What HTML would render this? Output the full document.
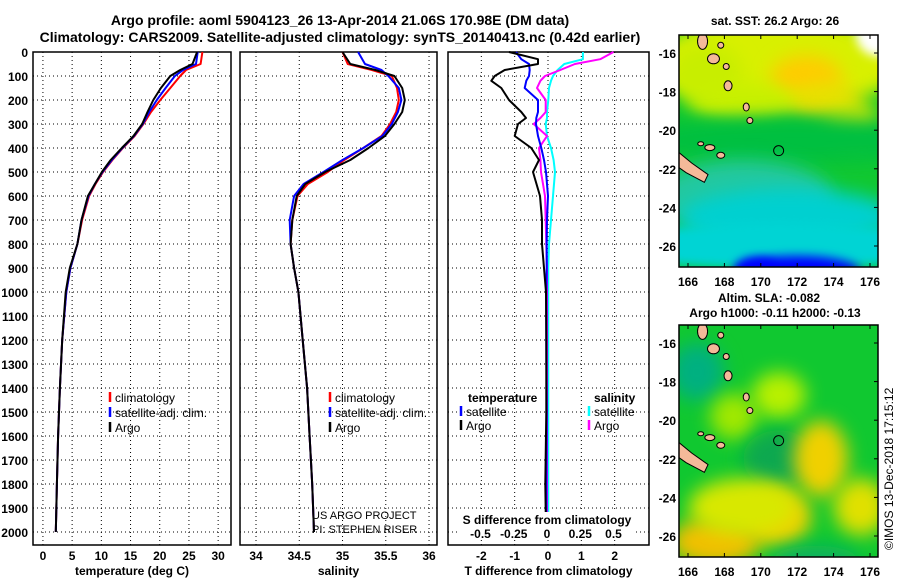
<!DOCTYPE html>
<html><head><meta charset="utf-8"><style>
body{margin:0;background:#fff;}
svg{display:block;font-family:"Liberation Sans",sans-serif;font-weight:bold;}
</style></head><body>
<svg id="c" width="900" height="580" viewBox="0 0 900 580">
<defs>
<filter id="bl" x="-50%" y="-50%" width="200%" height="200%"><feGaussianBlur stdDeviation="9"/></filter>
<filter id="bl2" x="-50%" y="-50%" width="200%" height="200%"><feGaussianBlur stdDeviation="5"/></filter>
<clipPath id="m1c"><rect x="679" y="35" width="199" height="232"/></clipPath>
<clipPath id="m2c"><rect x="679" y="325" width="199" height="232"/></clipPath>
</defs>
<text x="340" y="25" font-size="14" text-anchor="middle">Argo profile: aoml 5904123_26 13-Apr-2014 21.06S 170.98E (DM data)</text>
<text x="340" y="42" font-size="14" text-anchor="middle">Climatology: CARS2009. Satellite-adjusted climatology: synTS_20140413.nc (0.42d earlier)</text>
<text x="775" y="25" font-size="12" text-anchor="middle">sat. SST: 26.2 Argo: 26</text>
<text x="769" y="302" font-size="12" text-anchor="middle">Altim. SLA: -0.082</text>
<text x="775" y="317" font-size="12" text-anchor="middle">Argo h1000: -0.11 h2000: -0.13</text>
<text x="0" y="0" font-size="12" font-weight="normal" transform="translate(893,550) rotate(-90)">©IMOS 13-Dec-2018 17:15:12</text>
<g id="maps"></g>
<g id="plots"></g>
</svg>
<script>
// ---- data ----
const depth = [0,50,75,100,150,200,250,300,350,400,450,500,550,600,700,800,900,1000,1200,1400,1600,1800,2000];
const tempArgo = [26.4,25.6,23.5,21.8,20.2,18.9,17.9,17.0,15.5,13.5,11.6,10.1,8.9,7.7,6.6,5.9,4.6,3.9,3.3,2.9,2.6,2.4,2.2];
const tempClim = [27.3,27.0,24.5,23.5,21.8,20.1,18.5,17.2,15.7,13.7,11.9,10.3,9.0,7.9,6.7,5.9,4.7,4.0,3.3,2.9,2.6,2.4,2.2];
const tempSat  = [26.5,26.2,24.0,22.6,21.0,19.5,18.2,17.1,15.6,13.6,11.8,10.2,8.9,7.8,6.6,5.9,4.7,4.0,3.3,2.9,2.6,2.4,2.2];
const salArgo = [35.0,35.09,35.38,35.6,35.69,35.72,35.69,35.6,35.49,35.3,35.09,34.8,34.57,34.47,34.42,34.4,34.44,34.49,34.54,34.59,34.62,34.65,34.67];
const salClim = [35.0,35.06,35.34,35.57,35.63,35.65,35.62,35.55,35.45,35.24,35.02,34.83,34.6,34.48,34.42,34.4,34.44,34.49,34.54,34.59,34.62,34.65,34.67];
const salSat  = [35.18,35.26,35.45,35.53,35.65,35.68,35.64,35.57,35.46,35.24,35.0,34.78,34.55,34.44,34.39,34.4,34.44,34.49,34.54,34.59,34.62,34.65,34.67];
const dDepth = [0,30,50,75,100,120,150,200,250,275,300,350,400,450,500,600,700,800,900,1000,1200,1500,1800,2000];
const dTArgo = [-1.17,-0.3,-0.3,-1.3,-1.6,-1.7,-1.4,-1.17,-0.8,-0.66,-0.9,-1.0,-0.5,-0.27,-0.45,-0.24,-0.18,-0.18,-0.12,-0.06,-0.05,-0.05,-0.08,-0.06];
const dTSat  = [-0.96,-0.8,-0.57,-0.55,-0.57,-0.65,-0.7,-0.3,-0.3,-0.35,-0.36,-0.3,-0.2,-0.12,-0.06,0.0,-0.03,-0.04,-0.04,-0.05,-0.05,-0.04,-0.05,-0.05];
const dSArgo = [0.5,0.4,0.21,0.1,-0.015,-0.05,-0.075,-0.01,-0.01,-0.05,-0.1,0.0,-0.06,-0.05,-0.045,-0.015,-0.01,-0.005,0.0,0.0,0.0,0.0,0.0,0.0];
const dSSat  = [0.27,0.27,0.13,0.08,0.045,0.03,0.015,0.01,0.0,0.0,-0.01,0.0,0.03,0.05,0.06,0.045,0.03,0.015,0.01,0.01,0.01,0.01,0.01,0.01];
const depthTicks = [0,100,200,300,400,500,600,700,800,900,1000,1100,1200,1300,1400,1500,1600,1700,1800,1900,2000];
const tempTicks = [0,5,10,15,20,25,30];
const salTicks = [34,34.5,35,35.5,36];
const tdTicks = [-2,-1,0,1,2];
const sdTicks = [-0.5,-0.25,0,0.25,0.5];
const lonTicks = [166,168,170,172,174,176];
const latTicks = [-16,-18,-20,-22,-24,-26];

const NS="http://www.w3.org/2000/svg";
const plots=document.getElementById('plots');
function mk(tag,attrs,parent){const e=document.createElementNS(NS,tag);for(const k in attrs)e.setAttribute(k,attrs[k]);(parent||plots).appendChild(e);return e;}
const Y0=52, YPX=0.24;
const y=d=>Y0+d*YPX;

function panel(name,x0,x1,xmin,xmax,ticks,fmt,xlabel){
  const g=mk('g',{});
  
  
  const sx=v=>x0+(v-xmin)/(xmax-xmin)*(x1-x0);
  const gr=mk('g',{},g);
  
  
  depthTicks.forEach(d=>{mk('line',{x1:x0,x2:x1,y1:y(d),y2:y(d),stroke:'#000','stroke-width':1,'stroke-dasharray':'1 3'},gr);});
  ticks.forEach(t=>{mk('line',{x1:sx(t),x2:sx(t),y1:Y0,y2:545,stroke:'#000','stroke-width':1,'stroke-dasharray':'1 3'},gr);});
  const fr=mk('rect',{x:x0,y:Y0,width:x1-x0,height:545-Y0,fill:'none',stroke:'#000','stroke-width':1.5},g);
  
  
  ticks.forEach(t=>{
    const tx=mk('text',{x:sx(t),y:560,'font-size':12,'text-anchor':'middle'},g);tx.textContent=fmt(t);
    
    
  });
  const xl=mk('text',{x:(x0+x1)/2,y:575,'font-size':12,'text-anchor':'middle'},g);xl.textContent=xlabel;
  
  
  return {g,sx};
}
function line(p,xs,ds,color,name,sxf){
  const pts=xs.map((v,i)=>(sxf||p.sx)(v).toFixed(1)+','+y(ds[i]).toFixed(1)).join(' ');
  const l=mk('polyline',{points:pts,fill:'none',stroke:color,'stroke-width':2,'stroke-linejoin':'round'},p.g);
  
  
}
function legend(g,x,yy,color,label,name,anchor){
  const m=mk('line',{x1:x,x2:x,y1:yy-10,y2:yy,stroke:color,'stroke-width':2.5},g);
  
  
  const t=mk('text',{x:x+5,y:yy,'font-size':12,'font-weight':'normal'},g);t.textContent=label;
  
  
}

// depth axis labels
depthTicks.forEach(d=>{
  const t=mk('text',{x:28,y:y(d)+5,'font-size':12,'text-anchor':'end'});t.textContent=d;
  
  
});

// Panel 1
const p1=panel('temperature-panel',33,231,-1.7,32.2,tempTicks,v=>v,'temperature (deg C)');
line(p1,tempClim,depth,'#f00','temp-climatology-line');
line(p1,tempSat,depth,'#00f','temp-satellite-line');
line(p1,tempArgo,depth,'#000','temp-argo-line');
legend(p1.g,110,402,'#f00','climatology','legend-climatology');
legend(p1.g,110,417,'#00f','satellite-adj. clim.','legend-satellite');
legend(p1.g,110,432,'#000','Argo','legend-argo');

// Panel 2
const p2=panel('salinity-panel',240,437,33.815,36.092,salTicks,v=>v,'salinity');
line(p2,salClim,depth,'#f00','sal-climatology-line');
line(p2,salSat,depth,'#00f','sal-satellite-line');
line(p2,salArgo,depth,'#000','sal-argo-line');
legend(p2.g,330,402,'#f00','climatology','legend2-climatology');
legend(p2.g,330,417,'#00f','satellite-adj. clim.','legend2-satellite');
legend(p2.g,330,432,'#000','Argo','legend2-argo');
[['US ARGO PROJECT',519],['PI: STEPHEN RISER',533]].forEach(([s,yy])=>{
  const t=mk('text',{x:312,y:yy,'font-size':11,'font-weight':'normal'},p2.g);t.textContent=s;
  
  
});

// Panel 3
const p3=panel('difference-panel',448,649,-3,3.03,tdTicks,v=>v,'T difference from climatology');
const sxS=v=>547+v*133;
line(p3,dSSat,dDepth,'#0ff','sal-diff-satellite-line',sxS);
line(p3,dSArgo,dDepth,'#f0f','sal-diff-argo-line',sxS);
line(p3,dTSat,dDepth,'#00f','temp-diff-satellite-line');
line(p3,dTArgo,dDepth,'#000','temp-diff-argo-line');
const bgr=mk('rect',{x:457,y:512,width:178,height:28,fill:'#fff'},p3.g);
const st=mk('text',{x:547,y:524,'font-size':12,'text-anchor':'middle'},p3.g);st.textContent='S difference from climatology';


sdTicks.forEach(v=>{const t=mk('text',{x:sxS(v),y:538,'font-size':12,'text-anchor':'middle'},p3.g);t.textContent=v===0?'0':String(v).replace('0.','0.');
  
  });
const lh=mk('text',{x:468,y:402,'font-size':12},p3.g);lh.textContent='temperature';


const lh2=mk('text',{x:594,y:402,'font-size':12},p3.g);lh2.textContent='salinity';


legend(p3.g,461,416,'#00f','satellite','legend3-t-satellite');
legend(p3.g,461,430,'#000','Argo','legend3-t-argo');
legend(p3.g,589,416,'#0ff','satellite','legend3-s-satellite');
legend(p3.g,589,430,'#f0f','Argo','legend3-s-argo');

// ---- maps ----
const maps=document.getElementById('maps');
function mm(tag,attrs,parent){const e=document.createElementNS(NS,tag);for(const k in attrs)e.setAttribute(k,attrs[k]);(parent||maps).appendChild(e);return e;}
const lx=lon=>688+(lon-166)*18.2;
function buildMap(name,top,clip,blobs,base){
  const ly=lat=>top+18+(-16-lat)*19.3;
  const g=mm('g',{'clip-path':'url(#'+clip+')'});
  
  
  mm('rect',{x:679,y:top,width:199,height:232,fill:base},g);
  blobs.forEach(b=>{
    mm('ellipse',{cx:lx(b[0]),cy:ly(b[1]),rx:b[2]*18,ry:b[3]*19,fill:b[4],filter:'url(#'+(b[5]||'bl')+')'},g);
  });
  // islands
  const isl=[[166.8,-15.4,5,8],[167.8,-15.6,3,3],[167.4,-16.3,6,5],[168.1,-16.7,3,3],[168.2,-17.7,4,5],[169.2,-18.8,3,4],[169.4,-19.5,3,3],[167.2,-20.9,5,3],[167.8,-21.3,4,3],[166.7,-20.7,3,2]];
  isl.forEach(s=>{const e=mm('ellipse',{cx:lx(s[0]),cy:ly(s[1]),rx:s[2],ry:s[3],fill:'#f4b999',stroke:'#000','stroke-width':1},g);
    
    });
  const nc=mm('polygon',{points:`${lx(165.3)},${ly(-21.0)} ${lx(166.2)},${ly(-21.7)} ${lx(167.1)},${ly(-22.3)} ${lx(166.9)},${ly(-22.7)} ${lx(165.9)},${ly(-22.2)} ${lx(165.3)},${ly(-21.8)}`,fill:'#f4b999',stroke:'#000','stroke-width':1},g);
  
  
  const c=mm('circle',{cx:lx(170.98),cy:ly(-21.06),r:5,fill:'none',stroke:'#000','stroke-width':1},g);
  
  
  const fr=mm('rect',{x:679,y:top,width:199,height:232,fill:'none',stroke:'#000','stroke-width':1.5});
  
  
  lonTicks.forEach(l=>{const t=mm('text',{x:lx(l),y:top+251,'font-size':12,'text-anchor':'middle'});t.textContent=l;
    
    
    mm('line',{x1:lx(l),x2:lx(l),y1:top,y2:top+4,stroke:'#000'});mm('line',{x1:lx(l),x2:lx(l),y1:top+232,y2:top+228,stroke:'#000'});});
  latTicks.forEach(l=>{const t=mm('text',{x:676,y:ly(l)+5,'font-size':12,'text-anchor':'end'});t.textContent=l;
    
    
    mm('line',{x1:878,x2:874,y1:ly(l),y2:ly(l),stroke:'#000'});});
}
buildMap('sst-map',35,'m1c',[
  [171,-16.5,7,2.5,'#d8f000'],[167,-17,2,1.5,'#c8ee00'],[172.5,-17.3,2,1.2,'#ffcc00'],[173.5,-18.5,2,1,'#e8e000'],
  [169,-18.5,3,1,'#c8f000'],[175,-19.5,1.5,1,'#d8e800'],[172,-20.5,9,1.2,'#00c040'],
  [169,-23.5,5,2,'#20c8a0'],[171.5,-24.5,6,1.5,'#00d0d0'],[171,-26,10,1.2,'#00d4d4','bl2'],
  [172,-27.3,3.5,0.8,'#0000ff','bl2'],[169.8,-27.2,1.2,0.6,'#0000ff','bl2'],[176.5,-15,1.3,1.2,'#ffffff','bl2']
],'#10c830');
buildMap('sla-map',325,'m2c',[
  [166.5,-17.5,1.5,1.5,'#00b080'],[171,-18.7,1.5,1.2,'#b8f000'],[168.5,-19.8,1.3,1.2,'#a0e800'],
  [171,-22,2,1.5,'#10a850'],[173.3,-22,1.5,2,'#f0d000'],[170.8,-25,2,1.5,'#f0d000'],[167.5,-26.3,2.5,1.3,'#f0c000'],
  [175.5,-24.5,1.5,1.5,'#e0e000'],[169,-24.5,3,1.5,'#d8e800'],[173,-27.3,2.5,0.8,'#10b060']
],'#10c830');
</script>
</body></html>
